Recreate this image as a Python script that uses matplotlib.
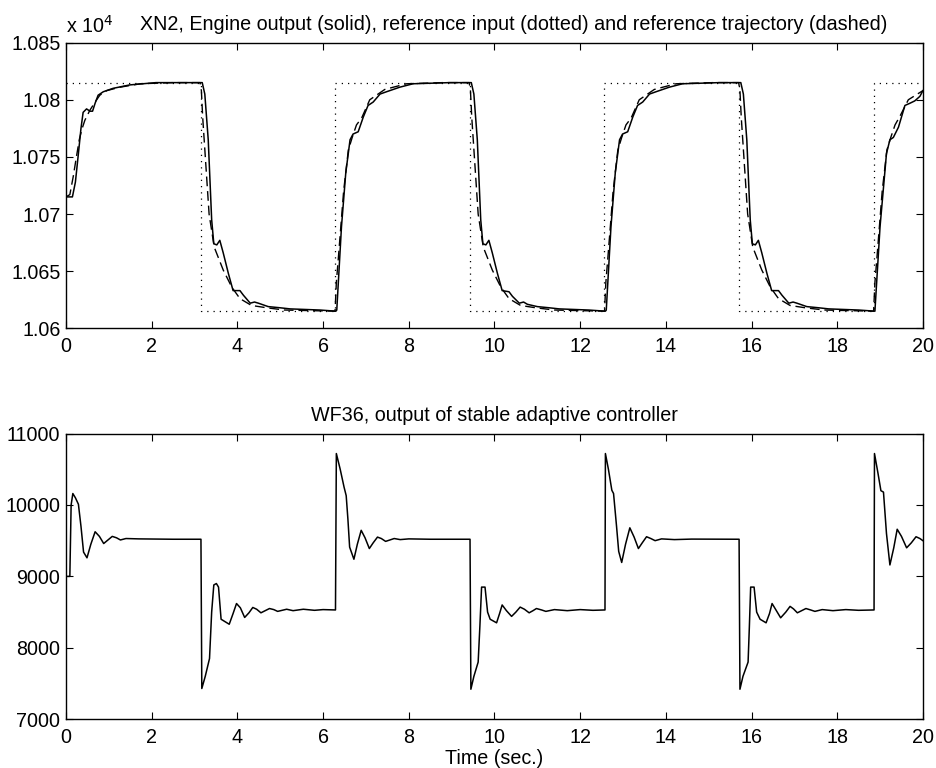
import matplotlib
matplotlib.use("Agg")
import matplotlib.pyplot as plt

plt.rcParams['font.family'] = ['Liberation Sans', 'DejaVu Sans']

# ---------------- Top panel data (XN2) ----------------
xn2_t = [0, 0.15, 0.22, 0.29, 0.35, 0.40, 0.48, 0.56, 0.62, 0.68, 0.75, 0.87, 1.1, 1.49, 2.1, 3.18,
         3.24, 3.32, 3.40, 3.45, 3.52, 3.59, 3.67, 3.79, 3.90, 4.06, 4.14, 4.30, 4.40, 4.49, 4.72, 4.99, 5.23, 5.93, 6.30,
         6.32, 6.43, 6.53, 6.63, 6.70, 6.82, 6.94, 7.05, 7.17, 7.33, 7.48, 7.79, 8.10, 8.96, 9.46,
         9.52, 9.60, 9.68, 9.73, 9.80, 9.87, 9.95, 10.07, 10.18, 10.34, 10.42, 10.58, 10.68, 10.77, 11.0, 11.27, 11.51, 12.2, 12.59,
         12.61, 12.72, 12.82, 12.92, 12.99, 13.11, 13.23, 13.34, 13.46, 13.62, 13.77, 14.08, 14.39, 15.25, 15.75,
         15.81, 15.89, 15.97, 16.02, 16.09, 16.16, 16.24, 16.36, 16.47, 16.63, 16.71, 16.87, 16.97, 17.06, 17.29, 17.56, 17.80, 18.5, 18.88,
         19.0, 19.15, 19.23, 19.31, 19.43, 19.58, 19.70, 19.81, 19.93, 20.0]
xn2_v = [10715, 10715, 10728, 10753, 10775, 10789, 10792, 10790, 10790, 10797, 10804, 10807, 10810, 10813, 10815, 10815,
         10805, 10765, 10695, 10674, 10673, 10677, 10666, 10648, 10633, 10633, 10629, 10622, 10623, 10622, 10619, 10618, 10617, 10616, 10615,
         10616, 10689, 10736, 10765, 10770, 10772, 10785, 10795, 10798, 10805, 10807, 10811, 10814, 10815, 10815,
         10805, 10765, 10695, 10674, 10673, 10677, 10666, 10648, 10633, 10632, 10628, 10622, 10623, 10621, 10619, 10618, 10617, 10616, 10615,
         10616, 10689, 10736, 10765, 10770, 10772, 10785, 10795, 10798, 10805, 10807, 10811, 10814, 10815, 10815,
         10805, 10765, 10695, 10674, 10673, 10677, 10666, 10648, 10633, 10633, 10629, 10622, 10623, 10622, 10619, 10618, 10617, 10616, 10615,
         10689, 10753, 10765, 10767, 10776, 10795, 10797, 10799, 10803, 10808]

traj_t = [0, 0.09, 0.17, 0.23, 0.31, 0.37, 0.44, 0.56, 0.68, 0.79, 0.95, 1.26, 1.73, 2.5, 3.13,
          3.16, 3.19, 3.34, 3.46, 3.67, 3.87, 4.06, 4.33, 4.68, 5.1, 6.28,
          6.31, 6.36, 6.48, 6.59, 6.68, 6.78, 6.90, 7.09, 7.44, 7.64, 7.95, 8.8, 9.41,
          9.44, 9.47, 9.62, 9.74, 9.95, 10.15, 10.34, 10.61, 10.96, 11.4, 12.57,
          12.60, 12.65, 12.77, 12.88, 12.97, 13.07, 13.19, 13.38, 13.73, 13.93, 14.24, 15.1, 15.70,
          15.73, 15.76, 15.91, 16.03, 16.24, 16.44, 16.63, 16.90, 17.25, 17.7, 18.85,
          18.88, 18.93, 19.05, 19.16, 19.25, 19.35, 19.47, 19.66, 20.0]
traj_v = [10715, 10717, 10733, 10747, 10765, 10774, 10782, 10791, 10798, 10804, 10808, 10811, 10814, 10815, 10815,
          10808, 10785, 10700, 10671, 10651, 10636, 10626, 10620, 10618, 10616, 10615,
          10640, 10663, 10720, 10756, 10767, 10778, 10784, 10800, 10809, 10811, 10814, 10815, 10815,
          10808, 10785, 10700, 10671, 10651, 10636, 10626, 10620, 10618, 10616, 10615,
          10640, 10663, 10720, 10756, 10767, 10778, 10784, 10800, 10809, 10811, 10814, 10815, 10815,
          10808, 10785, 10700, 10671, 10651, 10636, 10626, 10620, 10618, 10616, 10615,
          10640, 10663, 10720, 10756, 10767, 10778, 10786, 10800, 10808]

ref_t = [0, 3.1416, 6.2832, 9.4248, 12.5664, 15.708, 18.8496, 20]
ref_v = [10815, 10615, 10815, 10615, 10815, 10615, 10815, 10815]

top_ticks = [10600, 10650, 10700, 10750, 10800, 10850]
top_tick_labels = ["1.06", "1.065", "1.07", "1.075", "1.08", "1.085"]

# ---------------- Bottom panel data (WF36) ----------------
wf_t = [0, 0.09, 0.12, 0.16, 0.22, 0.29, 0.35, 0.41, 0.49, 0.58, 0.68, 0.78, 0.88, 0.98, 1.08, 1.18, 1.27, 1.40, 1.7, 2.5, 3.15,
        3.17, 3.25, 3.35, 3.40, 3.45, 3.51, 3.56, 3.62, 3.70, 3.81, 3.90, 3.98, 4.07, 4.17, 4.27, 4.36, 4.45, 4.55, 4.65, 4.75, 4.85, 4.94, 5.05, 5.15, 5.3, 5.54, 5.8, 6.0, 6.29,
        6.31, 6.40, 6.49, 6.54, 6.58, 6.62, 6.72, 6.80, 6.89, 6.98, 7.08, 7.17, 7.27, 7.36, 7.46, 7.56, 7.66, 7.8, 8.0, 8.5, 9.43,
        9.45, 9.52, 9.62, 9.66, 9.70, 9.78, 9.84, 9.90, 10.05, 10.12, 10.18, 10.28, 10.40, 10.5, 10.6, 10.7, 10.81, 10.9, 10.98, 11.1, 11.2, 11.4, 11.7, 12.0, 12.3, 12.58,
        12.59, 12.66, 12.74, 12.78, 12.85, 12.90, 12.97, 13.06, 13.16, 13.26, 13.36, 13.45, 13.55, 13.65, 13.75, 13.9, 14.2, 14.6, 15.71,
        15.73, 15.80, 15.92, 15.95, 15.98, 16.06, 16.12, 16.20, 16.34, 16.42, 16.48, 16.58, 16.68, 16.8, 16.9, 16.98, 17.07, 17.17, 17.27, 17.38, 17.48, 17.65, 17.9, 18.2, 18.5, 18.86,
        18.87, 18.95, 19.02, 19.08, 19.15, 19.23, 19.32, 19.40, 19.50, 19.62, 19.73, 19.84, 19.93, 20.0]
wf_v = [9000, 9000, 10000, 10160, 10100, 10010, 9700, 9340, 9260, 9450, 9625, 9560, 9460, 9510, 9560, 9540, 9510, 9530, 9525, 9520, 9520,
        7430, 7600, 7850, 8500, 8880, 8900, 8850, 8400, 8370, 8330, 8480, 8620, 8560, 8425, 8490, 8565, 8540, 8490, 8520, 8550, 8535, 8510, 8525, 8540, 8520, 8540, 8525, 8535, 8530,
        10720, 10500, 10250, 10130, 9800, 9410, 9240, 9450, 9645, 9540, 9390, 9470, 9550, 9530, 9490, 9510, 9530, 9515, 9525, 9520, 9520,
        7420, 7600, 7800, 8300, 8850, 8850, 8500, 8400, 8350, 8480, 8600, 8520, 8440, 8500, 8570, 8540, 8490, 8520, 8550, 8530, 8510, 8535, 8520, 8535, 8525, 8530,
        10720, 10500, 10206, 10160, 9700, 9350, 9195, 9450, 9680, 9550, 9390, 9470, 9555, 9530, 9500, 9525, 9515, 9522, 9520,
        7420, 7600, 7800, 8300, 8850, 8850, 8500, 8400, 8350, 8480, 8620, 8520, 8420, 8500, 8580, 8545, 8490, 8520, 8550, 8530, 8510, 8535, 8520, 8535, 8525, 8530,
        10720, 10450, 10200, 10180, 9600, 9160, 9400, 9660, 9560, 9400, 9470, 9555, 9530, 9500]

bot_ticks = [7000, 8000, 9000, 10000, 11000]
x_ticks = [0, 2, 4, 6, 8, 10, 12, 14, 16, 18, 20]

# ---------------- Figure ----------------
fig = plt.figure(figsize=(9.36, 7.68), dpi=100)
ax1 = fig.add_axes([0.0705, 0.5725, 0.9155, 0.372])
ax2 = fig.add_axes([0.0705, 0.0635, 0.9155, 0.372])

fs = 14.2
for ax in (ax1, ax2):
    ax.tick_params(direction='in', length=5, width=0.8, top=True, right=True,
                   labelsize=fs, pad=4)
    ax.tick_params(axis='x', pad=6)
    for s in ax.spines.values():
        s.set_linewidth(1.0)
    ax.set_xlim(0, 20)
    ax.set_xticks(x_ticks)

ax1.plot(ref_t, ref_v, color='black', lw=0.9, linestyle=(0, (1, 4)), drawstyle='steps-post')
ax1.plot(traj_t, traj_v, color='black', lw=1.0, linestyle=(0, (7, 3.5)))
ax1.plot(xn2_t, xn2_v, color='black', lw=1.1)
ax1.set_ylim(10600, 10850)
ax1.set_yticks(top_ticks)
ax1.set_yticklabels(top_tick_labels)
ax1.set_title("XN2, Engine output (solid), reference input (dotted) and reference trajectory (dashed)",
              fontsize=fs, pad=9, x=0.522)
ax1.text(0.0, 1.02, r"x 10$^4$", transform=ax1.transAxes, ha='left', va='bottom', fontsize=fs)

ax2.plot(wf_t, wf_v, color='black', lw=1.1)
ax2.set_ylim(7000, 11000)
ax2.set_yticks(bot_ticks)
ax2.set_title("WF36, output of stable adaptive controller", fontsize=fs, pad=9)
ax2.set_xlabel("Time (sec.)", fontsize=fs, labelpad=2)

fig.savefig("out.png", dpi=100)
